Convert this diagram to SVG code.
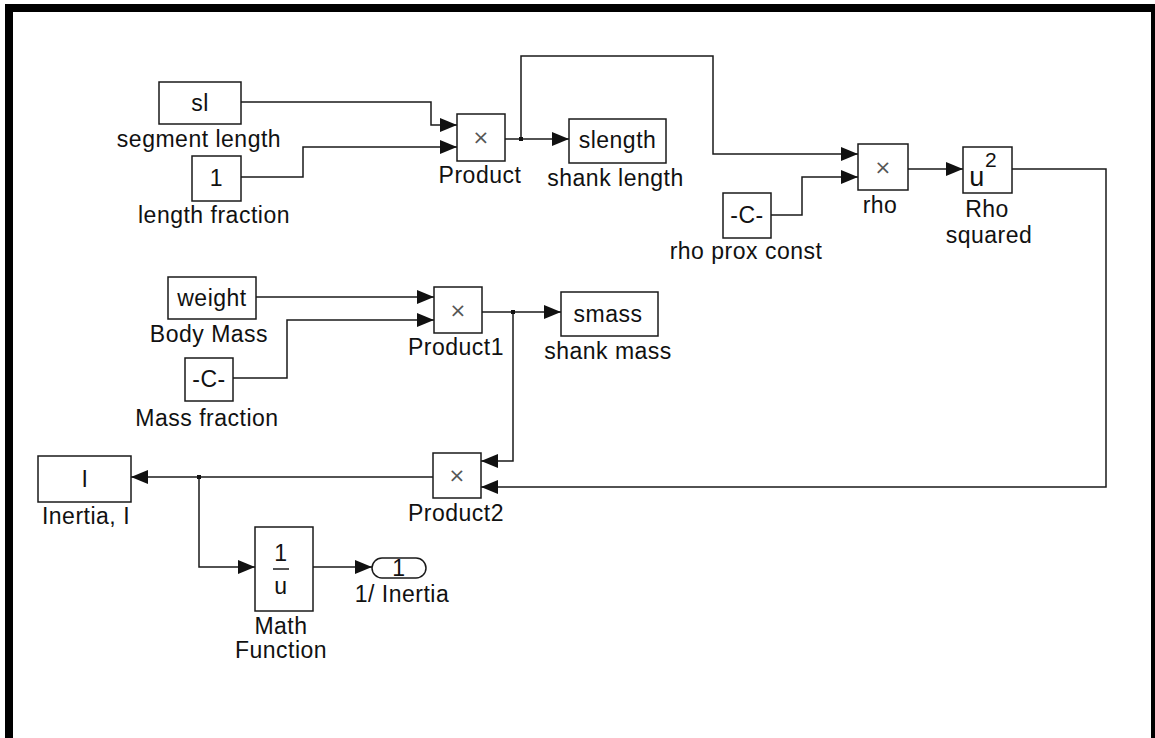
<svg xmlns="http://www.w3.org/2000/svg" width="1155" height="738" viewBox="0 0 1155 738">
<style>
.blk{fill:#fff;stroke:#1a1a1a;stroke-width:1.5}
.w{fill:none;stroke:#1a1a1a;stroke-width:1.5}
.t{font-family:"Liberation Sans",Arial,sans-serif;font-size:23px;letter-spacing:0.5px;fill:#111;text-anchor:middle}
.x{font-family:"DejaVu Sans",sans-serif;font-size:20px;fill:#555;text-anchor:middle}
.dot{fill:#111}
</style>
<defs>
<marker id="arr" markerUnits="userSpaceOnUse" markerWidth="17" markerHeight="14" refX="17" refY="7" orient="auto">
<path d="M0,0 L17,7 L0,14 z" fill="#111"/>
</marker>
</defs>
<rect width="1155" height="738" fill="#fff"/>
<rect x="5" y="4" width="1150" height="8" fill="#000"/>
<rect x="5" y="4" width="8" height="734" fill="#000"/>
<rect x="1151" y="4" width="4" height="734" fill="#000"/>

<g id="connectors">
<path class="w" d="M241,102 H431 V125 H457" marker-end="url(#arr)"/>
<path class="w" d="M241,177 H303 V147 H457" marker-end="url(#arr)"/>
<path class="w" d="M505,139 H569" marker-end="url(#arr)"/>
<path class="w" d="M521,139 V56 H713 V154 H858" marker-end="url(#arr)"/>
<path class="w" d="M771,215 H802 V177 H858" marker-end="url(#arr)"/>
<path class="w" d="M908,169 H963" marker-end="url(#arr)"/>
<path class="w" d="M1012,169 H1106 V487 H481" marker-end="url(#arr)"/>
<path class="w" d="M256,297 H434" marker-end="url(#arr)"/>
<path class="w" d="M233,378 H287 V320 H434" marker-end="url(#arr)"/>
<path class="w" d="M482,312 H561" marker-end="url(#arr)"/>
<path class="w" d="M513,312 V461 H481" marker-end="url(#arr)"/>
<path class="w" d="M433,477 H131" marker-end="url(#arr)"/>
<path class="w" d="M199,477 V567 H255" marker-end="url(#arr)"/>
<path class="w" d="M313,567 H372" marker-end="url(#arr)"/>
<rect class="dot" x="519" y="137" width="4" height="4"/>
<rect class="dot" x="511" y="310" width="4" height="4"/>
<rect class="dot" x="197" y="475" width="4" height="4"/>
</g>

<g id="sl">
<rect class="blk" x="159" y="82" width="82" height="42"/>
<text class="t" x="200" y="111">sl</text>
<text class="t" x="199" y="147">segment length</text>
</g>
<g id="length-fraction">
<rect class="blk" x="192" y="156" width="49" height="45"/>
<text class="t" x="216.5" y="186">1</text>
<text class="t" x="214" y="223">length fraction</text>
</g>
<g id="product">
<rect class="blk" x="457" y="114" width="48" height="47"/>
<text class="x" x="481" y="144">×</text>
<text class="t" x="480" y="183">Product</text>
</g>
<g id="slength">
<rect class="blk" x="569" y="119" width="97" height="44"/>
<text class="t" x="617.5" y="148">slength</text>
<text class="t" x="615.5" y="186">shank length</text>
</g>
<g id="rho-prox-const">
<rect class="blk" x="723" y="193" width="48" height="45"/>
<text class="t" x="747" y="223">-C-</text>
<text class="t" x="746" y="259">rho prox const</text>
</g>
<g id="rho">
<rect class="blk" x="858" y="144" width="50" height="46"/>
<text class="x" x="883" y="174">×</text>
<text class="t" x="880" y="213">rho</text>
</g>
<g id="rho-squared">
<rect class="blk" x="963" y="147" width="49" height="46"/>
<text class="t" x="977" y="186" style="font-size:27px">u</text>
<text class="t" x="991" y="167" style="font-size:21px">2</text>
<text class="t" x="987" y="217">Rho</text>
<text class="t" x="989" y="243">squared</text>
</g>
<g id="body-mass">
<rect class="blk" x="168" y="277" width="88" height="42"/>
<text class="t" x="212" y="306">weight</text>
<text class="t" x="209" y="342">Body Mass</text>
</g>
<g id="mass-fraction">
<rect class="blk" x="185" y="358" width="48" height="43"/>
<text class="t" x="209" y="387">-C-</text>
<text class="t" x="207" y="426">Mass fraction</text>
</g>
<g id="product1">
<rect class="blk" x="434" y="287" width="48" height="46"/>
<text class="x" x="458" y="317">×</text>
<text class="t" x="456" y="355">Product1</text>
</g>
<g id="smass">
<rect class="blk" x="561" y="292" width="97" height="44"/>
<text class="t" x="608" y="322">smass</text>
<text class="t" x="608" y="359">shank mass</text>
</g>
<g id="product2">
<rect class="blk" x="433" y="453" width="48" height="45"/>
<text class="x" x="457" y="482">×</text>
<text class="t" x="456" y="521">Product2</text>
</g>
<g id="inertia">
<rect class="blk" x="38" y="456" width="93" height="46"/>
<text class="t" x="85" y="487">I</text>
<text class="t" x="86" y="524">Inertia, I</text>
</g>
<g id="math-function">
<rect class="blk" x="255" y="527" width="58" height="84"/>
<text class="t" x="281" y="561">1</text>
<line x1="273" y1="569" x2="289" y2="569" stroke="#1a1a1a" stroke-width="1.5"/>
<text class="t" x="281" y="594">u</text>
<text class="t" x="281" y="634">Math</text>
<text class="t" x="281" y="658">Function</text>
</g>
<g id="outport">
<rect class="blk" x="372" y="558" width="54" height="20" rx="10" ry="10"/>
<text class="t" x="399" y="576">1</text>
<text class="t" x="402" y="602">1/ Inertia</text>
</g>
</svg>
